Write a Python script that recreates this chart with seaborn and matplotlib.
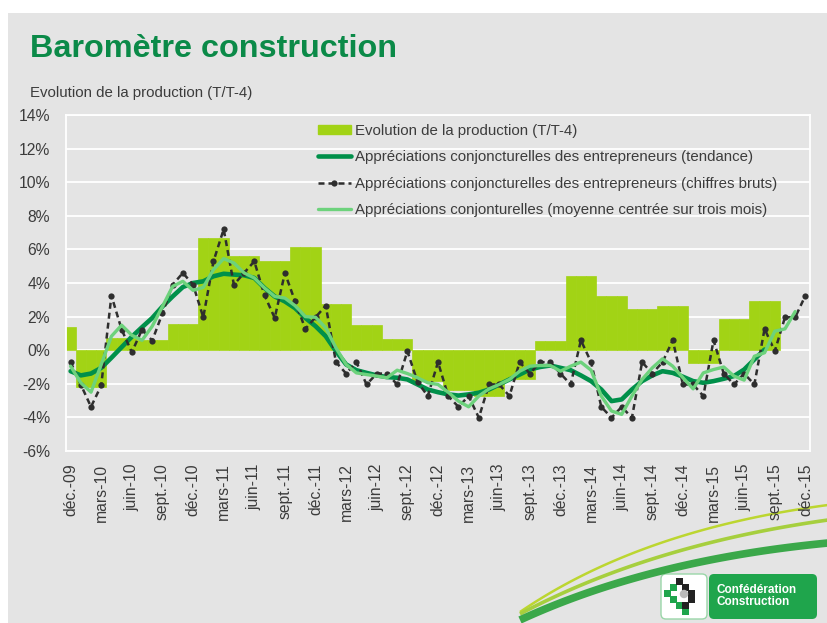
import numpy as np
import pandas as pd
import matplotlib.pyplot as plt
import seaborn as sns
from matplotlib.patches import Rectangle, FancyBboxPatch, Patch
from matplotlib.lines import Line2D

sns.set_style("white")
plt.rcParams['font.family'] = ['Liberation Sans', 'DejaVu Sans']

###########################
# data, monthly déc-09 .. déc-15
tick_labels = ["déc.-09", "mars-10", "juin-10", "sept.-10", "déc.-10", "mars-11", "juin-11",
               "sept.-11", "déc.-11", "mars-12", "juin-12", "sept.-12", "déc.-12", "mars-13",
               "juin-13", "sept.-13", "déc.-13", "mars-14", "juin-14", "sept.-14", "déc.-14",
               "mars-15", "juin-15", "sept.-15", "déc.-15"]

# quarterly production T/T-4 : Q4-09 (only déc-09 shown), then Q1-10 .. Q4-15
prod_q4_09 = 1.37
prod_quarters = [-2.18, 0.75, 0.6, 1.55, 6.67, 5.58, 5.33, 6.14, 2.77, 1.48, 0.69, -1.84,
                 -2.38, -2.73, -1.7, 0.57, 4.4, 3.25, 2.46, 2.61, -0.75, 1.88, 2.91, np.nan]

raw = [-0.71, -2.05, -3.37, -2.1, 3.25, 1.23, -0.12, 1.23, 0.57, 2.2, 3.9, 4.6, 3.9,
       1.96, 5.29, 7.2, 3.9, 4.6, 5.29, 3.27, 1.92, 4.6, 2.9, 1.27, 1.96, 2.65,
       -0.71, -1.39, -0.71, -2.04, -1.39, -1.39, -2.04, -0.06, -1.9, -2.73, -0.71, -2.73, -3.37,
       -2.73, -4.02, -2.04, -2.04, -2.73, -0.71, -1.39, -0.71, -0.71, -1.39, -2.04, 0.59, -0.71,
       -3.37, -4.02, -3.37, -4.02, -0.71, -1.39, -0.71, 0.59, -2.04, -2.04, -2.73, 0.59, -1.39,
       -2.04, -1.39, -2.04, 1.27, -0.06, 1.96, 1.96, 3.25]

trend = [-1.25, -1.5, -1.39, -1.05, -0.45, 0.18, 0.8, 1.37, 1.92, 2.6, 3.2, 3.76, 4.0,
         4.1, 4.4, 4.55, 4.5, 4.46, 4.3, 3.7, 3.2, 2.9, 2.5, 1.92, 1.43, 0.83,
         -0.06, -0.85, -1.19, -1.35, -1.5, -1.6, -1.64, -1.74, -2.04, -2.34, -2.5, -2.63, -2.7,
         -2.63, -2.53, -2.34, -2.04, -1.74, -1.45, -1.15, -1.0, -0.91, -1.05, -1.19, -1.5, -1.84,
         -2.34, -3.03, -2.93, -2.34, -1.84, -1.5, -1.25, -1.35, -1.58, -1.84, -1.94, -1.84, -1.7,
         -1.54, -1.15, -0.55, 0.04, np.nan, np.nan, np.nan, np.nan]

moy3 = [-0.95, -1.94, -2.5, -0.85, 0.83, 1.49, 0.89, 0.59, 1.43, 2.6, 3.8, 4.1, 3.56,
        3.74, 4.8, 5.45, 5.19, 4.6, 4.3, 3.7, 3.2, 3.1, 2.65, 2.0, 1.96, 1.33,
        0.14, -0.85, -1.35, -1.45, -1.54, -1.64, -1.19, -1.39, -1.64, -1.94, -2.04, -2.5, -3.03,
        -3.37, -2.73, -2.3, -2.04, -1.74, -1.25, -0.95, -0.91, -0.91, -1.25, -0.95, -0.71, -1.19,
        -2.73, -3.62, -3.82, -2.73, -1.74, -1.05, -0.51, -0.95, -1.64, -2.3, -1.35, -1.15, -1.0,
        -1.54, -1.78, -0.36, -0.15, 1.13, 1.27, 2.3, np.nan]

lab_prod = "Evolution de la production (T/T-4)"
lab_trend = "Appréciations conjoncturelles des entrepreneurs (tendance)"
lab_raw = "Appréciations conjoncturelles des entrepreneurs (chiffres bruts)"
lab_moy = "Appréciations conjonturelles (moyenne centrée sur trois mois)"

month_idx = np.arange(len(raw))
prod_monthly = np.concatenate([[prod_q4_09], np.repeat(prod_quarters, 3)])
df = pd.DataFrame({"m": month_idx, "prod": prod_monthly, "raw": raw,
                   "trend": trend, "moy": moy3})

c_bar = "#A2D315"
c_trend = "#00904A"
c_raw = "#2E2E2E"
c_moy = "#6DD27C"
c_bg = "#E4E4E4"
c_txt = "#3C3C3C"

W, H = 828, 623
fig = plt.figure(figsize=(W / 100, H / 100), dpi=100, facecolor="white")

# slide background + decorations in pixel coords
deco = fig.add_axes([0, 0, 1, 1], zorder=0)
deco.set_xlim(0, W)
deco.set_ylim(H, 0)
deco.axis("off")
deco.add_patch(Rectangle((8, 13), W - 8, H - 13, color=c_bg, lw=0))


def swoosh(p0, p1, p2, lw, color):
    t = np.linspace(0, 1, 80)[:, None]
    pts = (1 - t) ** 2 * np.array(p0) + 2 * (1 - t) * t * np.array(p1) + t ** 2 * np.array(p2)
    deco.plot(pts[:, 0], pts[:, 1], lw=lw, color=color, solid_capstyle="butt")


swoosh((520, 612), (640, 530), (828, 505), 1.8, "#BCD630")
swoosh((520, 614), (650, 545), (828, 520), 2.6, "#A6CF3E")
swoosh((520, 620), (650, 560), (828, 543), 5.5, "#3BA84A")

deco.add_patch(FancyBboxPatch((661, 574), 46, 45, boxstyle="round,pad=0,rounding_size=5",
                              fc="white", ec="#9AD6A8", lw=1))
deco.add_patch(FancyBboxPatch((709, 574), 108, 45, boxstyle="round,pad=0,rounding_size=5",
                              fc="#1FA54C", ec="none"))
for (px, py, col) in [(664, 590, "#1FA54C"), (670, 584, "#1FA54C"), (670, 596, "#1FA54C"),
                      (676, 602, "#1FA54C"), (682, 608, "#1FA54C"), (676, 578, "#222222"),
                      (682, 584, "#222222"), (688, 590, "#222222"), (688, 596, "#222222"),
                      (682, 602, "#222222")]:
    deco.add_patch(Rectangle((px, py), 7, 7, color=col, lw=0))
deco.add_patch(plt.Circle((684, 594), 3.5, color="#BBBBBB"))
deco.text(717, 596, "Confédération\nConstruction", color="white", fontsize=8.5,
          fontweight="bold", va="center", ha="left", linespacing=1.05)

# titles
fig.text(30 / W, 1 - 57 / H, "Baromètre construction", fontsize=23.3, fontweight="bold",
         color="#0B8A48", va="baseline", ha="left")
fig.text(30 / W, 1 - 97 / H, "Evolution de la production (T/T-4)", fontsize=10.8,
         color=c_txt, va="baseline", ha="left")

################################
# chart
ax = fig.add_axes([65.5 / W, (H - 451) / H, 745 / W, 336 / H], zorder=2)
ax.set_facecolor("none")

sns.barplot(data=df, x="m", y="prod", native_scale=True, width=1, color=c_bar,
            saturation=1, errorbar=None, edgecolor=c_bar, linewidth=0.5, ax=ax, zorder=2)
sns.lineplot(data=df, x="m", y="trend", color=c_trend, lw=3.3, ax=ax, zorder=3)
sns.lineplot(data=df, x="m", y="raw", color=c_raw, lw=1.8, marker="o", markersize=4.5,
             markeredgewidth=0, ax=ax, zorder=4)
ax.lines[-1].set_dashes([2.4, 1.6])
sns.lineplot(data=df, x="m", y="moy", color=c_moy, lw=2.4, ax=ax, zorder=5)

ax.set_xlim(-0.5, len(raw) - 0.5)
ax.set_ylim(-6, 14)
ax.set_yticks(range(-6, 15, 2))
ax.set_yticklabels([f"{v}%" for v in range(-6, 15, 2)], fontsize=11.3, color=c_txt)
ax.set_xticks(month_idx[::3])
ax.set_xticklabels(tick_labels, rotation=90, fontsize=11.3, color=c_txt)
ax.tick_params(axis="x", length=0, pad=9)
ax.tick_params(axis="y", length=0, pad=11)
ax.set_xlabel("")
ax.set_ylabel("")
ax.yaxis.grid(True, color="white", lw=1.3, zorder=0)
ax.set_axisbelow(True)
for sp in ax.spines.values():
    sp.set_color("white")
    sp.set_linewidth(1.3)

handles = [Patch(color=c_bar),
           Line2D([], [], color=c_trend, lw=3.3),
           Line2D([], [], color=c_raw, lw=1.8, dashes=[2.4, 1.6], marker="o",
                  markersize=4.5, markeredgewidth=0),
           Line2D([], [], color=c_moy, lw=2.4)]
fig.legend(handles, [lab_prod, lab_trend, lab_raw, lab_moy], loc="upper left",
           bbox_to_anchor=(318 / W, 1 - 124 / H), frameon=False, fontsize=10.8,
           labelcolor=c_txt, handlelength=2.2, handletextpad=0.3, labelspacing=0.82,
           borderpad=0, borderaxespad=0, handleheight=0.6)

fig.savefig("out.png", dpi=100, facecolor=fig.get_facecolor())
